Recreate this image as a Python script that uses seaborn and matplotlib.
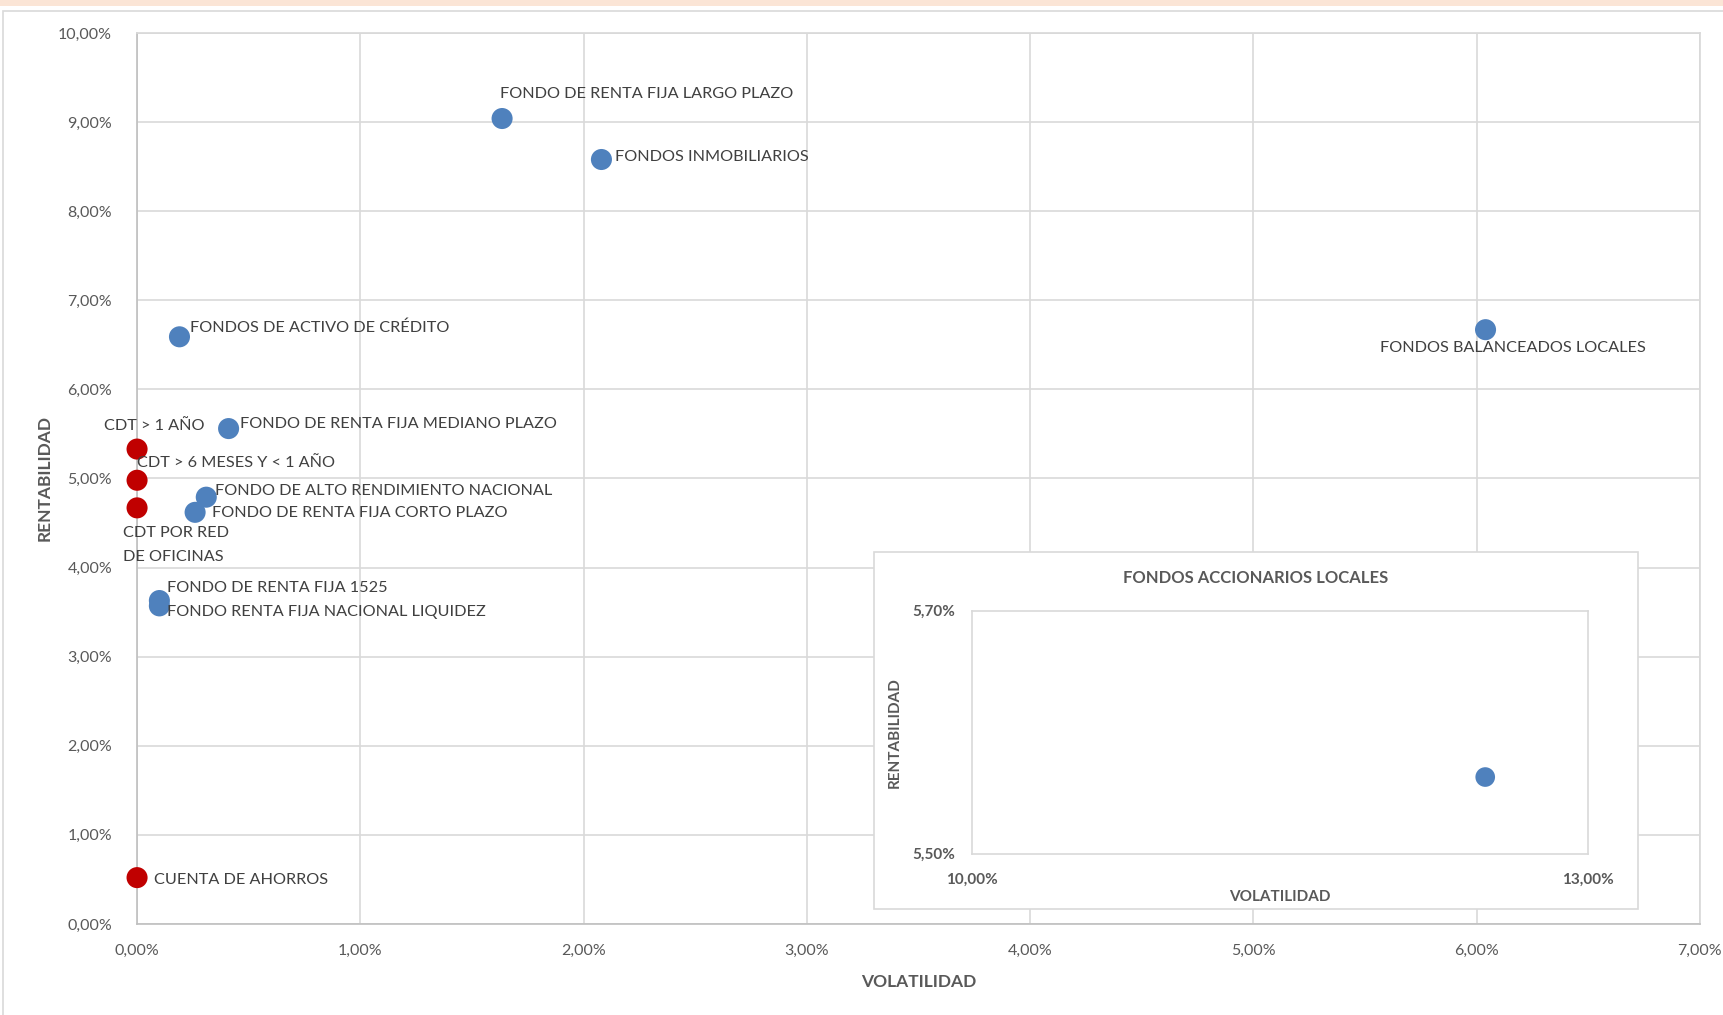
import matplotlib
matplotlib.use("Agg")
import matplotlib.pyplot as plt
from matplotlib.patches import Rectangle
from matplotlib.ticker import FuncFormatter, MultipleLocator
import seaborn as sns
import pandas as pd

# --- data (fractions) ---
names = [
    "FONDO DE RENTA FIJA LARGO PLAZO",
    "FONDOS INMOBILIARIOS",
    "FONDOS DE ACTIVO DE CRÉDITO",
    "FONDOS BALANCEADOS LOCALES",
    "FONDO DE RENTA FIJA MEDIANO PLAZO",
    "CDT > 1 AÑO",
    "CDT > 6 MESES Y < 1 AÑO",
    "CDT POR RED\nDE OFICINAS",
    "FONDO DE ALTO RENDIMIENTO NACIONAL",
    "FONDO DE RENTA FIJA CORTO PLAZO",
    "FONDO DE RENTA FIJA 1525",
    "FONDO RENTA FIJA NACIONAL LIQUIDEZ",
    "CUENTA DE AHORROS",
]
volatilidad = [0.01635, 0.0208, 0.0019, 0.0604, 0.0041, 0.0, 0.0, 0.0,
               0.0031, 0.0026, 0.0010, 0.0010, 0.0]
rentabilidad = [0.0904, 0.0858, 0.0659, 0.0667, 0.0556, 0.0533, 0.0498, 0.0467,
                0.0479, 0.0462, 0.0363, 0.0357, 0.0052]
tipo = ["Fondo", "Fondo", "Fondo", "Fondo", "Fondo", "CDT", "CDT", "CDT",
        "Fondo", "Fondo", "Fondo", "Fondo", "CDT"]

inset_name = ["FONDOS ACCIONARIOS LOCALES"]
inset_vol = [0.125]
inset_rent = [0.05563]

# label offsets (pixels, relative to the point)
label_offsets = [(-2, 22), (12, 2), (10, 8), (-96, -17), (10, 4), (-30, 21),
                 (0, 16), (-13, -34), (8, 6), (15, -1), (7, 11), (7, -6), (15, -2)]

df = pd.DataFrame({"name": names, "vol": volatilidad, "rent": rentabilidad, "tipo": tipo})
df_in = pd.DataFrame({"name": inset_name, "vol": inset_vol, "rent": inset_rent})

BLUE = "#4f81bd"
RED = "#c00000"
GRAY = "#595959"
GRID = "#d9d9d9"

sns.set_theme(style="white")
plt.rcParams["font.family"] = ["Lato", "DejaVu Sans"]

fig = plt.figure(figsize=(17.24, 10.15), dpi=100)

# top band and chart frame
fig.patches.append(Rectangle((0, 0.994), 1, 0.006, transform=fig.transFigure,
                             facecolor="#fbe5d6", edgecolor="none", zorder=0))
fig.patches.append(Rectangle((0.002, -0.01), 1.1, 0.999, transform=fig.transFigure,
                             facecolor="none", edgecolor="#d9d9d9", lw=1.2, zorder=0))

ax = fig.add_axes([0.0795, 0.0897, 0.9065, 0.8778])
sns.scatterplot(data=df, x="vol", y="rent", hue="tipo",
                palette={"Fondo": BLUE, "CDT": RED}, s=230, edgecolor="none",
                legend=False, ax=ax, zorder=3, clip_on=False)

ax.set_xlim(0, 0.07)
ax.set_ylim(0, 0.10)
ax.xaxis.set_major_locator(MultipleLocator(0.01))
ax.yaxis.set_major_locator(MultipleLocator(0.01))
pct = FuncFormatter(lambda v, p: f"{v * 100:.2f}%".replace(".", ","))
ax.xaxis.set_major_formatter(pct)
ax.yaxis.set_major_formatter(pct)
ax.grid(True, color=GRID, lw=1.2)
ax.set_axisbelow(True)
for side in ["top", "right"]:
    ax.spines[side].set_color(GRID)
for side in ["left", "bottom"]:
    ax.spines[side].set_color("#bfbfbf")
    ax.spines[side].set_linewidth(1.2)
ax.tick_params(axis="both", length=0, labelsize=11.5, labelcolor=GRAY)
ax.tick_params(axis="y", pad=18)
ax.tick_params(axis="x", pad=14)
ax.set_xlabel("VOLATILIDAD", fontsize=12.5, fontweight="bold", color=GRAY, labelpad=12)
ax.set_ylabel("RENTABILIDAD", fontsize=12.5, fontweight="bold", color=GRAY, labelpad=4)

px2pt = 1.1 * 0.72
for row, (dx, dy) in zip(df.itertuples(), label_offsets):
    ax.annotate(row.name, (row.vol, row.rent), xytext=(dx * px2pt, dy * px2pt),
                textcoords="offset points", ha="left", va="center",
                fontsize=11.7, color="#404040", linespacing=1.9, zorder=4)

# inset box
fig.patches.append(Rectangle((0.507, 0.1044), 0.443, 0.3516, transform=fig.transFigure,
                             facecolor="white", edgecolor=GRID, lw=1.2, zorder=1))
fig.text(0.7285, 0.431, "FONDOS ACCIONARIOS LOCALES", ha="center", va="center",
         fontsize=12, fontweight="bold", color=GRAY, zorder=3)

axi = fig.add_axes([0.564, 0.159, 0.357, 0.2395])
axi.set_zorder(2)
sns.scatterplot(data=df_in, x="vol", y="rent", color=BLUE, s=200, edgecolor="none",
                legend=False, ax=axi)
axi.set_xlim(0.10, 0.13)
axi.set_ylim(0.055, 0.057)
axi.set_xticks([0.10, 0.13])
axi.set_yticks([0.055, 0.057])
axi.xaxis.set_major_formatter(pct)
axi.yaxis.set_major_formatter(pct)
for side in axi.spines:
    axi.spines[side].set_color(GRID)
    axi.spines[side].set_linewidth(1.2)
axi.tick_params(axis="both", length=0, labelsize=11, labelcolor=GRAY)
for lab in axi.get_xticklabels() + axi.get_yticklabels():
    lab.set_fontweight("bold")
axi.tick_params(axis="x", pad=14)
axi.tick_params(axis="y", pad=12)
axi.set_xlabel("VOLATILIDAD", fontsize=11, fontweight="bold", color=GRAY, labelpad=2)
axi.set_ylabel("RENTABILIDAD", fontsize=11, fontweight="bold", color=GRAY, labelpad=8)

fig.savefig("out.png", dpi=100)
